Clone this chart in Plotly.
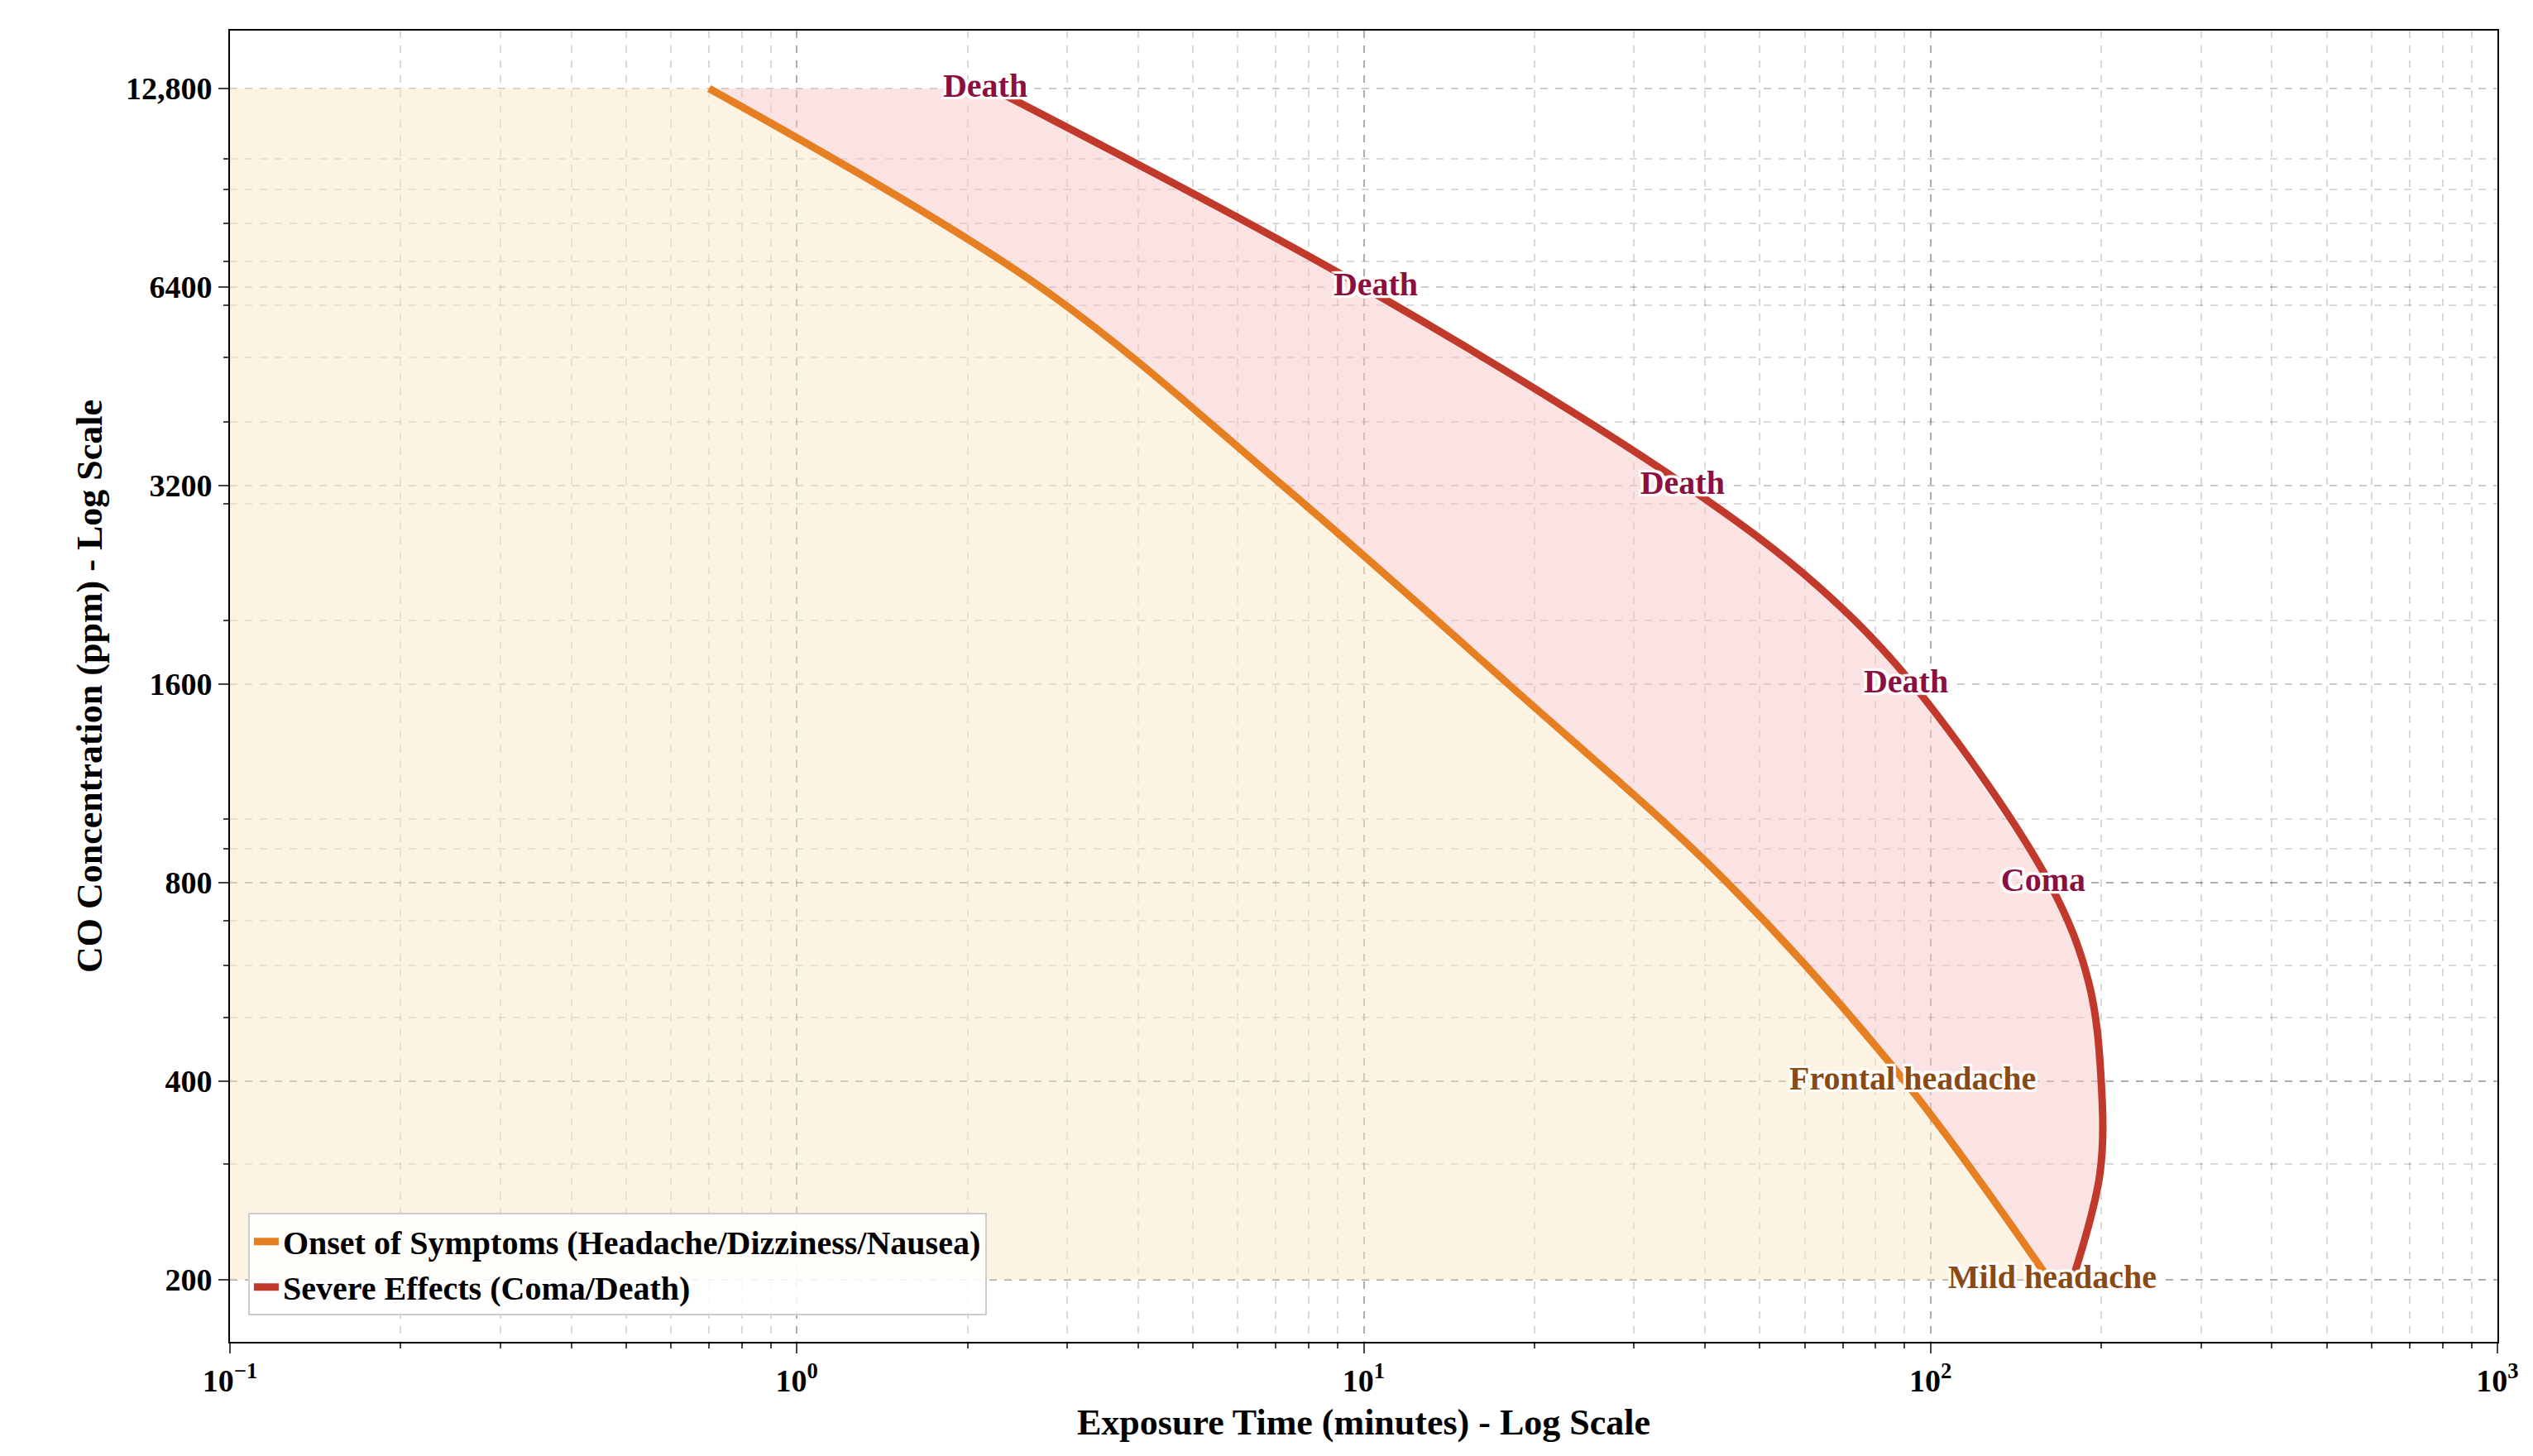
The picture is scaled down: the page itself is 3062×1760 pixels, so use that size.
import plotly.graph_objects as go

# onset of symptoms curve (minutes, ppm)
onset_t = [0.70, 2.69, 7.2, 18, 43.8, 90, 162]
onset_c = [12800, 6400, 3200, 1600, 800, 400, 200]

# severe effects curve
severe_t = [2.21, 10, 37, 63, 93, 162, 190, 200, 199, 178]
severe_c = [12800, 6400, 3200, 2260, 1600, 800, 566, 400, 290, 200]

labels = ["Death", "Death", "Death", "Death", "Coma", "Frontal headache", "Mild headache"]
label_t = [2.15, 10.5, 36.5, 90.5, 158, 93, 164]
label_c = [12800, 6400, 3200, 1600, 800, 400, 200]
label_col = ["#8b1040"] * 5 + ["#8b4a13"] * 2

yticks = [200, 400, 800, 1600, 3200, 6400, 12800]
ytext = ["200", "400", "800", "1600", "3200", "6400", "12,800"]

font = "Liberation Serif"
fig = go.Figure()

fig.add_trace(go.Scatter(
    x=[0.1, 0.1] + onset_t + [0.1], y=[200, 12800] + onset_c + [200],
    fill="toself", fillcolor="rgba(250,232,200,0.5)", mode="lines",
    line=dict(width=0), showlegend=False, hoverinfo="skip"))
fig.add_trace(go.Scatter(
    x=onset_t + severe_t[::-1], y=onset_c + severe_c[::-1],
    fill="toself", fillcolor="rgba(248,200,200,0.5)", mode="lines",
    line=dict(width=0), showlegend=False, hoverinfo="skip"))

fig.add_trace(go.Scatter(x=onset_t, y=onset_c, mode="lines",
                         line=dict(color="#e67e22", width=9, shape="spline"),
                         name="Onset of Symptoms (Headache/Dizziness/Nausea)"))
fig.add_trace(go.Scatter(x=severe_t, y=severe_c, mode="lines",
                         line=dict(color="#c0392b", width=9, shape="spline"),
                         name="Severe Effects (Coma/Death)"))

halo = ", ".join(f"{dx}px {dy}px 1px white" for dx in (-3, 0, 3) for dy in (-3, 0, 3))
fig.add_trace(go.Scatter(x=label_t, y=label_c, mode="text", text=labels,
                         textfont=dict(family=font, size=40, color=label_col,
                                       weight="bold", shadow=halo),
                         showlegend=False, hoverinfo="skip"))

minor = dict(ticks="outside", ticklen=6, dtick="D1", showgrid=True,
             gridcolor="rgba(0,0,0,0.15)", griddash="dash", gridwidth=1.5)
grid = dict(showgrid=True, gridcolor="rgba(0,0,0,0.2)", griddash="dash", gridwidth=1.5)
fig.update_xaxes(type="log", range=[-1, 3],
                 tickvals=[0.1, 1, 10, 100, 1000],
                 ticktext=["10<sup>−1</sup>", "10<sup>0</sup>", "10<sup>1</sup>",
                           "10<sup>2</sup>", "10<sup>3</sup>"],
                 ticks="outside", ticklen=12, tickwidth=2, minor=minor,
                 showline=True, linecolor="black", linewidth=2, mirror=True,
                 title=dict(text="<b>Exposure Time (minutes) - Log Scale</b>",
                            font=dict(size=44)), **grid)
fig.update_yaxes(type="log", range=[2.207, 4.195],
                 tickvals=yticks, ticktext=ytext,
                 ticks="outside", ticklen=12, tickwidth=2, minor=minor,
                 showline=True, linecolor="black", linewidth=2, mirror=True,
                 title=dict(text="<b>CO Concentration (ppm) - Log Scale</b>",
                            font=dict(size=44)), **grid)

fig.update_layout(
    width=3062, height=1760, plot_bgcolor="white", paper_bgcolor="white",
    margin=dict(l=270, r=51, t=29, b=146),
    font=dict(family=font, size=38, color="black", weight="bold"),
    legend=dict(x=0.008, y=0.02, xanchor="left", yanchor="bottom",
                bgcolor="rgba(255,255,255,0.85)", bordercolor="#cccccc", borderwidth=2,
                font=dict(size=40)),
)

fig.write_html("out.html")
